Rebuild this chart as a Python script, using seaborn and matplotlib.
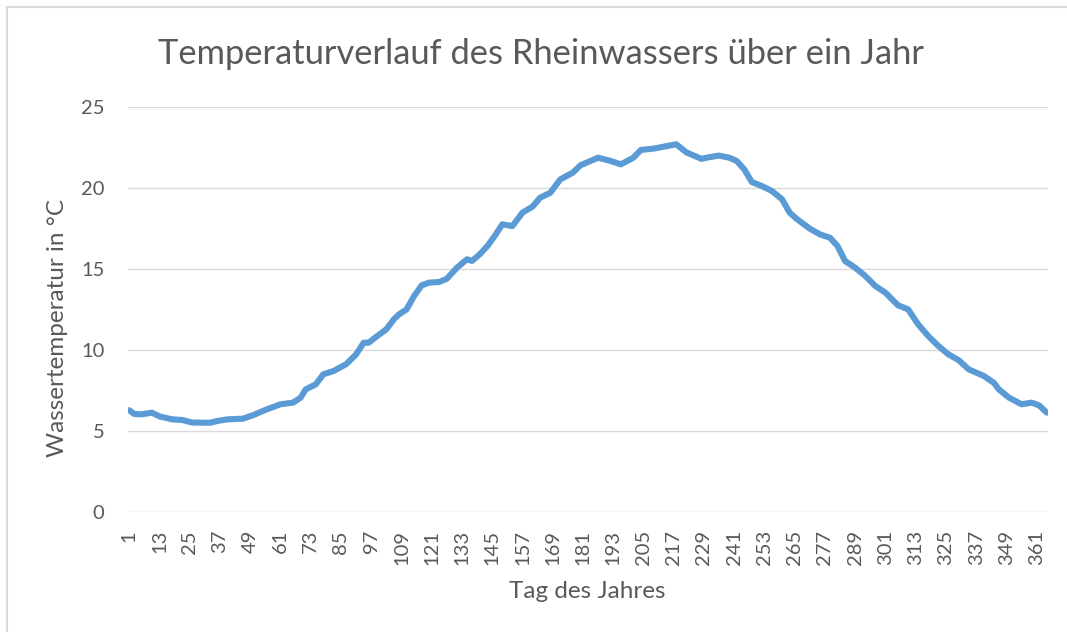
import matplotlib
matplotlib.use("Agg")
import matplotlib.pyplot as plt
import seaborn as sns
import pandas as pd
from matplotlib.patches import Rectangle

# Values (day of year, water temperature in °C)
days = [1, 3, 6, 10, 13, 18, 22, 26, 33, 36, 40, 46, 50, 55, 61, 66, 69, 71, 75, 78,
        82, 87, 91, 94, 96, 99, 103, 106, 108, 111, 114, 117, 120, 124, 127, 131, 135,
        137, 140, 143, 146, 149, 153, 157, 161, 164, 168, 172, 177, 180, 184, 187, 192,
        196, 201, 204, 209, 213, 218, 222, 228, 231, 235, 239, 242, 245, 248, 252, 256,
        260, 263, 266, 271, 275, 279, 282, 285, 289, 293, 297, 301, 306, 310, 314, 318,
        322, 326, 330, 334, 340, 344, 346, 350, 355, 359, 362, 365]
temps = [6.28, 6.05, 6.03, 6.13, 5.90, 5.72, 5.68, 5.52, 5.51, 5.62, 5.72, 5.76, 5.97,
         6.30, 6.65, 6.75, 7.06, 7.57, 7.88, 8.50, 8.70, 9.12, 9.73, 10.45, 10.45, 10.82,
         11.28, 11.90, 12.20, 12.50, 13.33, 13.99, 14.16, 14.20, 14.40, 15.08, 15.60,
         15.50, 15.90, 16.40, 17.04, 17.76, 17.65, 18.48, 18.85, 19.40, 19.70, 20.53,
         20.95, 21.40, 21.67, 21.87, 21.67, 21.46, 21.87, 22.35, 22.43, 22.55, 22.70,
         22.20, 21.80, 21.90, 22.00, 21.87, 21.67, 21.15, 20.37, 20.12, 19.81, 19.30,
         18.48, 18.07, 17.49, 17.14, 16.93, 16.42, 15.49, 15.08, 14.57, 13.95, 13.54,
         12.76, 12.51, 11.58, 10.86, 10.25, 9.73, 9.38, 8.81, 8.40, 7.98, 7.57, 7.06,
         6.65, 6.75, 6.58, 6.13]
x_ticks = list(range(1, 362, 12))
y_ticks = [0, 5, 10, 15, 20, 25]

title = "Temperaturverlauf des Rheinwassers über ein Jahr"
x_label = "Tag des Jahres"
y_label = "Wassertemperatur in °C"

sns.set_theme(style="white")
plt.rcParams['font.family'] = ['Lato', 'DejaVu Sans']

W, H = 1067, 632
fig = plt.figure(figsize=(W / 100, H / 100), dpi=100)
fig.patch.set_facecolor("white")
fig.patches.append(Rectangle((7 / W, -0.1), 1.2, 1.1 - 7 / H, transform=fig.transFigure,
                             fill=False, edgecolor="#D9D9D9", linewidth=1.5))

ax = fig.add_axes([128 / W, 1 - 512 / H, 920 / W, 405 / H])
df = pd.DataFrame({"Tag": days, "Temperatur": temps})
sns.lineplot(data=df, x="Tag", y="Temperatur", ax=ax, color="#5B9BD5", linewidth=4.4,
             solid_capstyle="round", solid_joinstyle="round")

ax.set_xlim(0.5, 365.5)
ax.set_ylim(0, 25)
ax.set_xticks(x_ticks)
ax.set_xticklabels([str(t) for t in x_ticks], rotation=90)
ax.set_yticks(y_ticks)
ax.yaxis.grid(True, color="#D9D9D9", linewidth=1)
ax.xaxis.grid(False)
for s in ax.spines.values():
    s.set_visible(False)
ax.tick_params(axis="y", length=0, pad=17, labelsize=14.5, labelcolor="#595959")
ax.tick_params(axis="x", length=0, pad=13, labelsize=14.5, labelcolor="#595959")
ax.set_xlabel("")
ax.set_ylabel("")

fig.text(541 / W, 1 - 64 / H, title, ha="center", va="baseline", fontsize=24.8, color="#595959")
fig.text(587 / W, 1 - 592 / H, x_label, ha="center", va="center", fontsize=17.5, color="#595959")
fig.text(57 / W, 1 - 328 / H, y_label, ha="center", va="center", fontsize=17.5, color="#595959",
         rotation=90)

fig.savefig("out.png", dpi=100)
